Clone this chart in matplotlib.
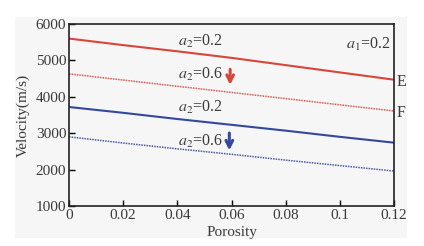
import matplotlib
matplotlib.use("Agg")
import matplotlib.pyplot as plt
from matplotlib.patches import Rectangle

porosity = [0.0, 0.02, 0.04, 0.06, 0.08, 0.10, 0.12]
red_solid = [5600, 5420, 5250, 5070, 4870, 4670, 4470]
red_dotted = [4630, 4460, 4290, 4120, 3950, 3780, 3610]
blue_solid = [3720, 3560, 3390, 3230, 3070, 2900, 2740]
blue_dotted = [2900, 2730, 2570, 2420, 2260, 2110, 1960]
xticks = [0, 0.02, 0.04, 0.06, 0.08, 0.1, 0.12]
xticklabels = ["0", "0.02", "0.04", "0.06", "0.08", "0.1", "0.12"]
yticks = [1000, 2000, 3000, 4000, 5000, 6000]

plt.rcParams['font.family'] = ['Liberation Serif', 'DejaVu Serif']
plt.rcParams['mathtext.fontset'] = 'stix'
TXT = '#3a3a3a'
plt.rcParams['text.color'] = TXT
plt.rcParams['xtick.labelcolor'] = TXT
plt.rcParams['ytick.labelcolor'] = TXT
plt.rcParams['axes.labelcolor'] = TXT

RED = '#d8453b'
BLUE = '#34489c'
W, H = 424, 246
fig = plt.figure(figsize=(W/100, H/100), dpi=100)
fig.patches.append(Rectangle((15/W, 1-238/H), (407-15)/W, (238-17)/H,
                             transform=fig.transFigure, facecolor='#f6f6f6',
                             edgecolor='none', zorder=-10))
ax = fig.add_axes([69/W, 1-206/H, (394-69)/W, (206-24)/H])
ax.set_facecolor('#f6f6f6')

ax.plot(porosity, red_solid, color=RED, lw=1.5)
ax.plot(porosity, red_dotted, color=RED, lw=1.1, ls=(0, (1, 0.7)), alpha=0.9)
ax.plot(porosity, blue_solid, color=BLUE, lw=1.5)
ax.plot(porosity, blue_dotted, color=BLUE, lw=1.1, ls=(0, (1, 0.7)), alpha=0.9)

ax.set_xlim(0, 0.12)
ax.set_ylim(1000, 6000)
ax.set_xticks(xticks)
ax.set_xticklabels(xticklabels)
ax.set_yticks(yticks)
ax.tick_params(direction='in', length=4, width=1, labelsize=11, pad=2,
               top=False, right=False)
for s in ax.spines.values():
    s.set_linewidth(1.2)
    s.set_color('#222222')

ax.set_xlabel('Porosity', fontsize=11, labelpad=3)
ax.set_ylabel('Velocity(m/s)', fontsize=11, labelpad=4)

fs = 11.5
ax.text(0.0485, 5520, r'$a_2$=0.2', fontsize=fs, ha='center', va='center')
ax.text(0.0485, 4620, r'$a_2$=0.6', fontsize=fs, ha='center', va='center')
ax.text(0.0485, 3720, r'$a_2$=0.2', fontsize=fs, ha='center', va='center')
ax.text(0.0485, 2780, r'$a_2$=0.6', fontsize=fs, ha='center', va='center')
ax.text(0.1105, 5450, r'$a_1$=0.2', fontsize=fs, ha='center', va='center')

ax.annotate('', xy=(0.0595, 4250), xytext=(0.0595, 4830),
            arrowprops=dict(arrowstyle='->', color=RED, lw=2.2, mutation_scale=12))
ax.annotate('', xy=(0.0592, 2450), xytext=(0.0592, 3080),
            arrowprops=dict(arrowstyle='->', color=BLUE, lw=2.2, mutation_scale=12))

ax.text(1.008, 4420, 'E', transform=ax.get_yaxis_transform(), fontsize=11.5,
        ha='left', va='center')
ax.text(1.008, 3560, 'F', transform=ax.get_yaxis_transform(), fontsize=11.5,
        ha='left', va='center')

fig.savefig('out.png', dpi=100)
